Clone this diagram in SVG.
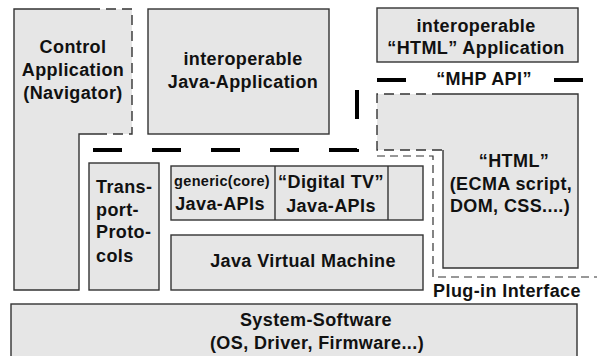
<svg xmlns="http://www.w3.org/2000/svg" width="597" height="356" viewBox="0 0 597 356">
<style>
  .fill { fill: #e6e6e6; stroke: none; }
  .solid { fill: none; stroke: #333; stroke-width: 1.4; }
  .dash { fill: none; stroke: #333; stroke-width: 1.4; stroke-dasharray: 10 6; }
  .box { fill: #e6e6e6; stroke: #333; stroke-width: 1.4; }
  .thick { fill: none; stroke: #000; stroke-width: 4; stroke-dasharray: 29 30; }
  .plug { fill: none; stroke: #333; stroke-width: 1.2; stroke-dasharray: 8 5; }
  text { font-family: "Liberation Sans", Arial, Helvetica, sans-serif; font-weight: bold; font-size: 18px; letter-spacing: 0.4px; fill: #111; }
  .m { text-anchor: middle; }
  .s { font-size: 14.5px; letter-spacing: 0.3px; }
</style>
<rect width="597" height="356" fill="#fff"/>

<g id="control-application">
  <path class="fill" d="M14,9 H132 V134 H79 V290 H14 Z"/>
  <path class="solid" d="M90,9 H14 V290 H79 V134 H100"/>
  <path class="dash" d="M90,9 H132 V134 H100"/>
  <text class="m" x="73" y="53">Control</text>
  <text class="m" x="73" y="76">Application</text>
  <text class="m" x="73" y="99">(Navigator)</text>
</g>

<g id="java-application">
  <rect class="box" x="148" y="9" width="181" height="125"/>
  <text class="m" x="243" y="65">interoperable</text>
  <text class="m" x="243" y="88">Java-Application</text>
</g>

<g id="html-application">
  <rect class="box" x="377" y="8" width="201" height="54"/>
  <text class="m" x="476" y="32">interoperable</text>
  <text class="m" x="476" y="54">“HTML” Application</text>
</g>

<g id="html-engine">
  <path class="fill" d="M377,94 H578 V268 H443 V150 H377 Z"/>
  <path class="solid" d="M442,94 H578 V268 H443 V150"/>
  <path class="dash" d="M442,94 H377 V150 H443"/>
  <text class="m" x="514" y="167">“HTML”</text>
  <text class="m" x="511" y="190">(ECMA script,</text>
  <text class="m" x="510" y="212">DOM, CSS....)</text>
</g>

<g id="transport-protocols">
  <rect class="box" x="89" y="163" width="70" height="127"/>
  <text x="96" y="193">Trans-</text>
  <text x="96" y="216">port-</text>
  <text x="96" y="238">Proto-</text>
  <text x="96" y="262">cols</text>
</g>

<g id="java-apis">
  <rect class="box" x="171" y="166" width="252" height="54"/>
  <line class="solid" x1="275" y1="166" x2="275" y2="220"/>
  <line class="solid" x1="388" y1="166" x2="388" y2="220"/>
  <text class="m s" x="222" y="186">generic(core)</text>
  <text class="m" x="220" y="210">Java-APIs</text>
  <text class="m" x="331" y="188">“Digital TV”</text>
  <text class="m" x="331" y="212">Java-APIs</text>
</g>

<g id="jvm">
  <rect class="box" x="171" y="235" width="252" height="55"/>
  <text class="m" x="303" y="267">Java Virtual Machine</text>
</g>

<g id="system-software">
  <rect class="box" x="11" y="304" width="566" height="56"/>
  <text class="m" x="316" y="326">System-Software</text>
  <text class="m" x="317" y="349">(OS, Driver, Firmware...)</text>
</g>

<g id="connectors">
  <path class="thick" d="M93,150 H357 V80 H590"/>
  <rect x="416" y="68" width="130" height="22" fill="#fff"/>
  <path class="plug" d="M377,156 H433 V277 H597"/>
</g>

<g id="labels">
  <text class="m" x="484" y="85">“MHP API”</text>
  <text class="m" x="507" y="297">Plug-in Interface</text>
</g>
</svg>
